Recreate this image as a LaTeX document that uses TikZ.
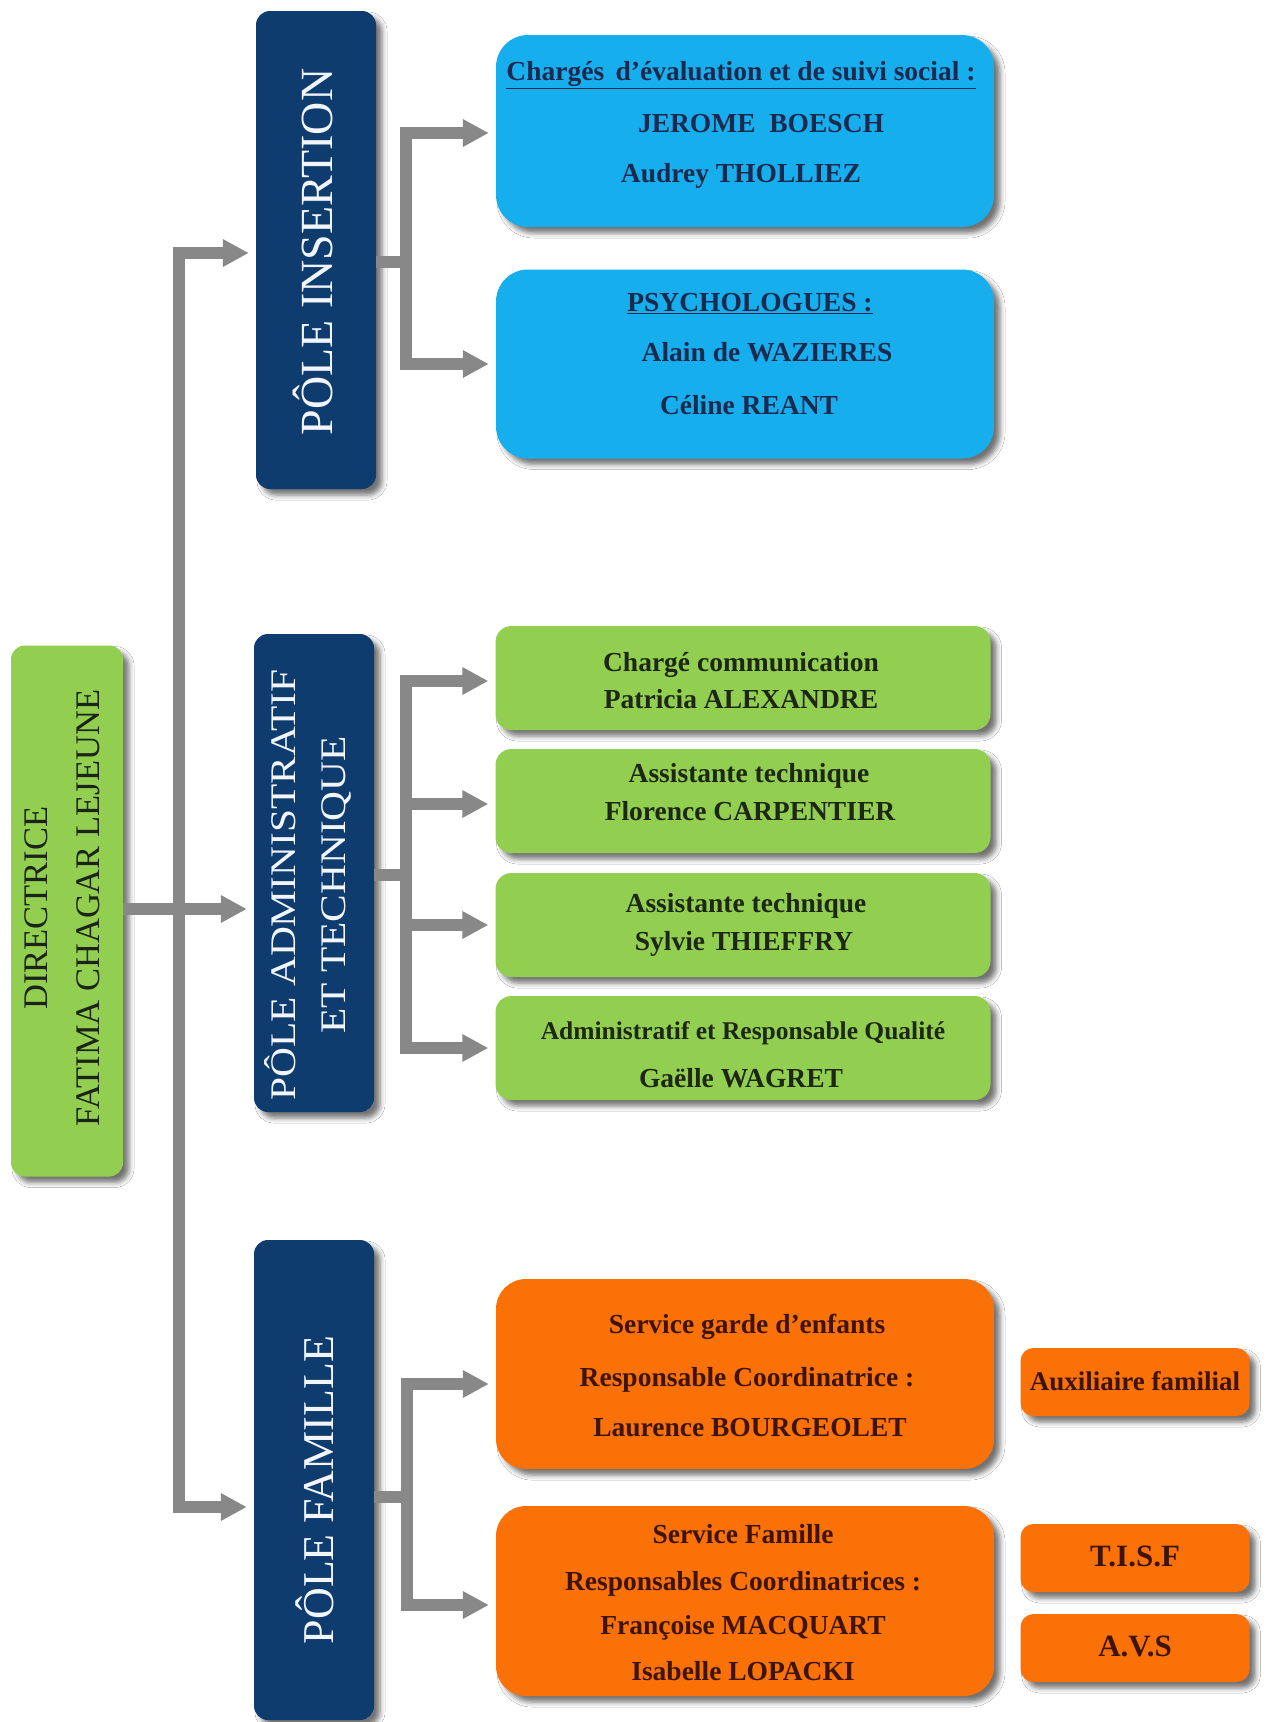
\documentclass[tikz,border=0pt]{standalone}
\usepackage{fontspec}
\setmainfont{Liberation Serif}
\newfontfamily\widefont[FakeStretch=1.15]{Liberation Serif}
\usetikzlibrary{arrows.meta,shadows.blur}

\definecolor{navy}{HTML}{0E3C6E}
\definecolor{sky}{HTML}{17AEEE}
\definecolor{leaf}{HTML}{92CF50}
\definecolor{tang}{HTML}{FA7108}
\definecolor{conngray}{HTML}{888888}
\definecolor{skytext}{HTML}{1A2A4E}
\definecolor{leaftext}{HTML}{1E2614}
\definecolor{tangtext}{HTML}{3E1408}
\definecolor{poletext}{HTML}{F2F6FB}
\definecolor{dirtext}{HTML}{1C2418}

\tikzset{
  box/.style={draw=none, inner sep=0pt,
    blur shadow={shadow xshift=6pt, shadow yshift=-6pt, shadow blur radius=5pt, shadow opacity=55}},
  polebox/.style={box, fill=navy, rounded corners=14pt, minimum width=120pt, minimum height=478pt},
  dirbox/.style={box, fill=leaf, rounded corners=14pt},
  skybox/.style={box, fill=sky, rounded corners=32pt, minimum width=498pt},
  leafbox/.style={box, fill=leaf, rounded corners=16pt, minimum width=495pt, minimum height=104pt},
  tangbox/.style={box, fill=tang, rounded corners=30pt, minimum width=498pt, minimum height=190pt},
  tagbox/.style={box, fill=tang, rounded corners=13pt, minimum width=229pt, minimum height=68pt},
  line/.style={inner sep=0pt, text height=0.66em, text depth=0pt, anchor=center, yshift=-6.5pt},
  skyline/.style={line, text=skytext, font=\bfseries\fontsize{27.5}{33}\selectfont},
  leafline/.style={line, text=leaftext, font=\bfseries\fontsize{27.5}{33}\selectfont},
  tangline/.style={line, text=tangtext, font=\bfseries\fontsize{27.5}{33}\selectfont},
  poletxt/.style={rotate=90, align=center, text=poletext, inner sep=0pt},
  conn/.style={draw=conngray, line width=12pt, -{Triangle[length=26pt,width=26pt]}, shorten >=7pt},
  bar/.style={draw=conngray, line width=12pt},
}

\begin{document}
\begin{tikzpicture}[x=1pt,y=-1pt]
\fill[white] (0,0) rectangle (1267,1722);
\useasboundingbox (0,0) rectangle (1267,1722);

% directrice
\node[dirbox, minimum width=112pt, minimum height=531pt] (dir) at (67,911) {};
\node[rotate=90, align=center, text=dirtext, inner sep=0pt,
      font=\fontsize{34.5}{52}\selectfont] (dirt) at (62,908)
      {DIRECTRICE\\FATIMA CHAGAR LEJEUNE};

% poles
\node[polebox] (ins) at (316,250) {};
\node[poletxt, font=\fontsize{46}{50}\selectfont] (inst) at (313,252) {PÔLE INSERTION};
\node[polebox] (adm) at (314,873) {};
\node[poletxt, font=\widefont\fontsize{36}{50}\selectfont] (admt) at (308,885) {PÔLE ADMINISTRATIF\\ET TECHNIQUE};
\node[polebox, minimum height=480pt] (fam) at (314,1480) {};
\node[poletxt, font=\fontsize{44}{50}\selectfont] (famt) at (315,1490) {PÔLE FAMILLE};

% insertion children
\node[skybox, minimum height=192pt] (b1) at (745,131) {};
\node[skyline] (b1a) at (741,71) {\underline{Chargés\, d’évaluation et de suivi social :}};
\node[skyline] (b1b) at (761,123) {JEROME\ \ BOESCH};
\node[skyline] (b1c) at (741,173) {Audrey THOLLIEZ};
\node[skybox, minimum height=189pt] (b2) at (745,364) {};
\node[skyline] (b2a) at (750,302) {\underline{PSYCHOLOGUES :}};
\node[skyline] (b2b) at (767,352) {Alain de WAZIERES};
\node[skyline] (b2c) at (749,405) {Céline REANT};

% admin children
\node[leafbox] (g1) at (743,678) {};
\node[leafline] (g1a) at (741,662) {Chargé communication};
\node[leafline] (g1b) at (741,699) {Patricia ALEXANDRE};
\node[leafbox] (g2) at (743,801) {};
\node[leafline] (g2a) at (749,773) {Assistante technique};
\node[leafline] (g2b) at (750,811) {Florence CARPENTIER};
\node[leafbox] (g3) at (743,925) {};
\node[leafline] (g3a) at (746,903) {Assistante technique};
\node[leafline] (g3b) at (744,941) {Sylvie THIEFFRY};
\node[leafbox] (g4) at (743,1048) {};
\node[leafline, font=\bfseries\fontsize{25.5}{30}\selectfont] (g4a) at (743,1030) {Administratif et Responsable Qualité};
\node[leafline] (g4b) at (741,1078) {Gaëlle WAGRET};

% famille children
\node[tangbox] (o1) at (745,1374) {};
\node[tangline] (o1a) at (747,1324) {Service garde d’enfants};
\node[tangline] (o1b) at (747,1377) {Responsable Coordinatrice :};
\node[tangline] (o1c) at (750,1427) {Laurence BOURGEOLET};
\node[tangbox] (o2) at (745,1601) {};
\node[tangline] (o2a) at (743,1534) {Service Famille};
\node[tangline] (o2b) at (743,1581) {Responsables Coordinatrices :};
\node[tangline] (o2c) at (743,1625) {Françoise MACQUART};
\node[tangline] (o2d) at (743,1671) {Isabelle LOPACKI};

\node[tagbox] (s1) at (1135,1382) {};
\node[tangline, font=\bfseries\fontsize{27}{32}\selectfont] (s1t) at (1135,1381) {Auxiliaire familial};
\node[tagbox] (s2) at (1135,1558) {};
\node[tangline, font=\bfseries\fontsize{31}{36}\selectfont] (s2t) at (1135,1557) {T.I.S.F};
\node[tagbox] (s3) at (1135,1648) {};
\node[tangline, font=\bfseries\fontsize{31}{36}\selectfont] (s3t) at (1135,1647) {A.V.S};

% connectors
\coordinate (trunk) at (179,909);
\draw[conn, {Triangle[length=26pt,width=26pt]}-{Triangle[length=26pt,width=26pt]}, shorten <=7pt]
  ([yshift=-27pt]fam.west) -| (trunk) |- ([yshift=-3pt]ins.west);
\draw[conn] (dir.east |- trunk) -- (trunk -| adm.west);

\coordinate (insj) at (406,262);
\draw[bar] (ins.east |- insj) -- (insj);
\draw[conn] (insj) |- ([yshift=-2pt]b1.west);
\draw[conn] (insj) |- (b2.west);

\coordinate (admj) at (406,875);
\draw[bar] (adm.east |- admj) -- (admj);
\draw[conn] (admj) |- ([yshift=-3pt]g1.west);
\draw[conn] (admj) |- ([yshift=-3pt]g2.west);
\draw[conn] (admj) |- (g3.west);
\draw[conn] (admj) |- (g4.west);

\coordinate (famj) at (407,1497);
\draw[bar] (fam.east |- famj) -- (famj);
\draw[conn] (famj) |- ([yshift=-10pt]o1.west);
\draw[conn] (famj) |- ([yshift=-4pt]o2.west);
\end{tikzpicture}
\end{document}
